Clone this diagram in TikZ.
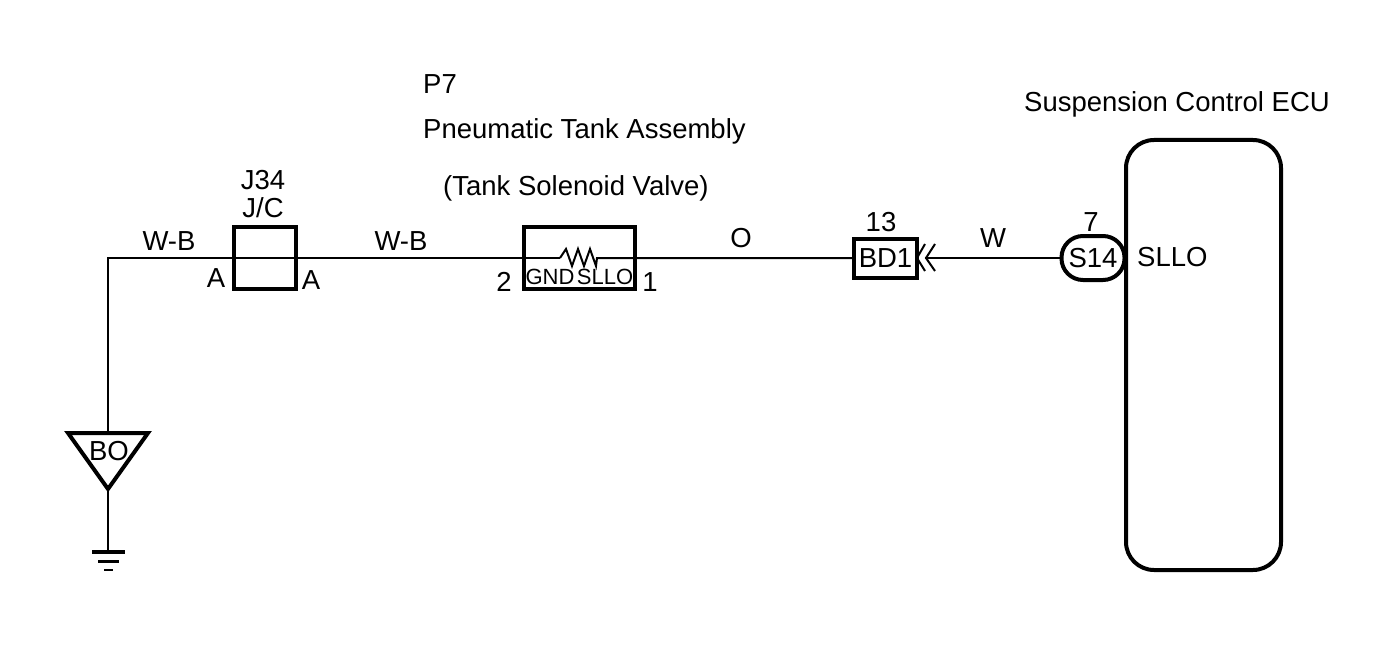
\documentclass[tikz,border=0pt]{standalone}
\usepackage{fontspec}
\setmainfont{Liberation Sans}
\usetikzlibrary{positioning}
\tikzset{
  lbl/.style={inner sep=0pt,font=\fontsize{27.5}{29}\selectfont},
  smalllbl/.style={inner sep=0pt,font=\fontsize{22}{24}\selectfont},
  wire/.style={line width=2pt},
  partbox/.style={draw,line width=4pt,inner sep=0pt,minimum width=#1},
}
\begin{document}
\begin{tikzpicture}[x=1pt,y=-1pt]
  \useasboundingbox (0,0) rectangle (1376,666);
  % parts
  \node[partbox=62pt,minimum height=62pt] (jc) at (265,258) {};
  \node[partbox=111pt,minimum height=62pt] (tank) at (579.5,258) {};
  \node[partbox=63pt,minimum height=39pt,lbl] (bd) at (885.5,258) {BD1};
  \node[partbox=63pt,rounded corners=21.5pt,minimum height=44pt,lbl] (scon) at (1093,258) {S14};
  \node[partbox=155pt,rounded corners=28pt,minimum height=430pt] (ecu) at (1203.5,355) {};
  % ground triangle
  \coordinate (bo) at (108,433);
  \coordinate (botip) at (108,489);
  \draw[line width=4pt,line join=miter] (68,433) -- (148,433) -- (botip) -- cycle;
  \node[lbl] (bolbl) at (109,451) {BO};
  % ground bars
  \coordinate (gnd) at (108,552);
  \draw[line width=4pt] (92,552) -- (125,552);
  \draw[line width=3pt] (98,561) -- (119,561);
  \draw[line width=2pt] (104,570) -- (113,570);
  % wires
  \coordinate (corner) at (108,258);
  \coordinate (resl) at (560,258);
  \coordinate (resr) at (597,258);
  \coordinate (chev) at (925,258);
  \draw[wire] (bo) -- (corner) -- (jc.west);
  \draw[wire] (botip) -- (gnd);
  \draw[wire] (jc.west) -- (jc.east) -- (tank.west) -- (resl);
  \draw[wire] (resl) -- ++(6,-9) -- ++(6,17) -- ++(6,-17) -- ++(6,17) -- ++(6,-17) -- ++(6,17) -- (resr) -- (tank.east) -- (bd.west);
  \draw[wire] (chev) -- (scon.west);
  % double chevron
  \draw[wire] (925,244) -- (917,258) -- (925,271);
  \draw[wire] (935,244) -- (926,258) -- (935,271);
  % texts
  \node[lbl,anchor=west] (p7) at (423,84) {P7};
  \node[lbl,anchor=west] (tname) at (423,131) {Pneumatic Tank Assembly};
  \node[lbl,anchor=west] (tsub) at (443,188) {(Tank Solenoid Valve)};
  \node[lbl] (ecuname) at (1177,104) {Suspension Control ECU};
  \node[lbl] (jnum) at (263,180) {J34};
  \node[lbl] (jtype) at (263,208) {J/C};
  \node[lbl] (w1) at (169,241) {W-B};
  \node[lbl] (w2) at (401,241) {W-B};
  \node[lbl] (w3) at (741,238) {O};
  \node[lbl] (w4) at (993,238) {W};
  \node[lbl] (pa1) at (216,278) {A};
  \node[lbl] (pa2) at (311,280) {A};
  \node[lbl] (p2) at (504,282) {2};
  \node[lbl] (p1) at (650,282) {1};
  \node[smalllbl] (gndlbl) at (550,277) {GND};
  \node[smalllbl] (sllolbl) at (605,277) {SLLO};
  \node[lbl] (p13) at (881,222) {13};
  \node[lbl] (p7b) at (1091,222) {7};
  \node[lbl,anchor=west] (sllo) at (1137,257) {SLLO};
\end{tikzpicture}
\end{document}
